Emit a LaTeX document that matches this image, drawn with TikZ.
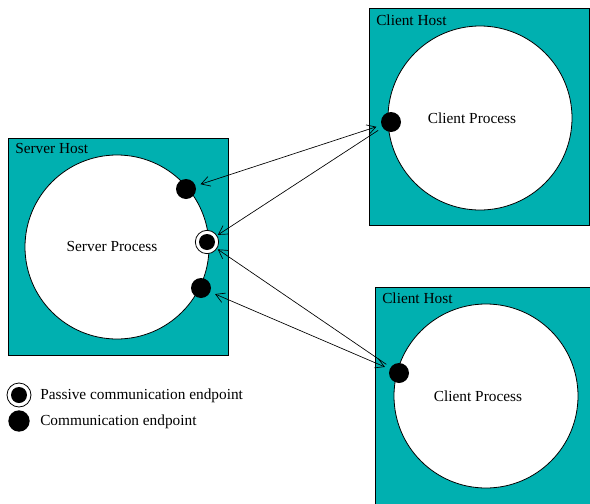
\documentclass[tikz,border=0pt]{standalone}
\usepackage{fontspec}
\setmainfont{Liberation Serif}
\usetikzlibrary{arrows.meta}
\definecolor{hostteal}{RGB}{0,176,176}
\tikzset{
  host/.style={draw=black, fill=hostteal, line width=0.6pt},
  proc/.style={circle, draw=black, fill=white, line width=0.6pt, minimum size=138pt, inner sep=0pt},
  ep/.style={circle, fill=black, minimum size=15pt, inner sep=0pt, outer sep=4pt},
  pep/.style={circle, draw=black, fill=white, line width=0.6pt, minimum size=17.5pt, inner sep=0pt, outer sep=1pt,
    path picture={\fill[black] (path picture bounding box.center) circle (6pt);}},
  lbl/.style={font=\fontsize{11.5}{13}\selectfont, inner sep=0pt},
  conn/.style={line width=0.5pt, arrows={-Straight Barb[length=6.5pt,width=7.5pt]}},
  bconn/.style={line width=0.5pt, arrows={Straight Barb[length=6.5pt,width=7.5pt]-Straight Barb[length=6.5pt,width=7.5pt]}}
}
\begin{document}
\begin{tikzpicture}[x=0.75pt,y=-0.75pt]
\useasboundingbox (0,0) rectangle (590,504);
\begin{scope}
\clip (0,0) rectangle (590,504);
% hosts
\draw[host] (8,138) rectangle (228,355);
\draw[host] (369,8) rectangle (589,225);
\draw[host] (375,287) rectangle (595,510);
\node[lbl, anchor=west] (shl) at (15,148) {Server Host};
\node[lbl, anchor=west] (chl1) at (376,20) {Client Host};
\node[lbl, anchor=west] (chl2) at (382,298) {Client Host};
% processes
\node[proc] (sp) at (117,247) {};
\node[proc] (cp1) at (480,118) {};
\node[proc] (cp2) at (486,396) {};
\node[lbl] (spl) at (112,246) {Server Process};
\node[lbl] (cpl1) at (472,118) {Client Process};
\node[lbl] (cpl2) at (478,396) {Client Process};
% endpoints
\node[ep] (s1) at (186,189) {};
\node[pep] (sp0) at (207,242) {};
\node[ep] (s2) at (201,288) {};
\node[ep] (c1) at (391,122) {};
\node[ep] (c2) at (399,373) {};
\end{scope}
% connectors
\draw[bconn] (c1) -- (s1);
\draw[conn] (c1) -- (sp0);
\draw[conn] (c2) -- (sp0);
\draw[bconn] (c2) -- (s2);
% legend
\node[pep, minimum size=18pt] (lp) at (19,395) {};
\node[ep, minimum size=16pt] (le) at (19,421) {};
\node[lbl, anchor=west] (lpt) at (40,396) {Passive communication endpoint};
\node[lbl, anchor=west] (let) at (40,422) {Communication endpoint};
\end{tikzpicture}
\end{document}
